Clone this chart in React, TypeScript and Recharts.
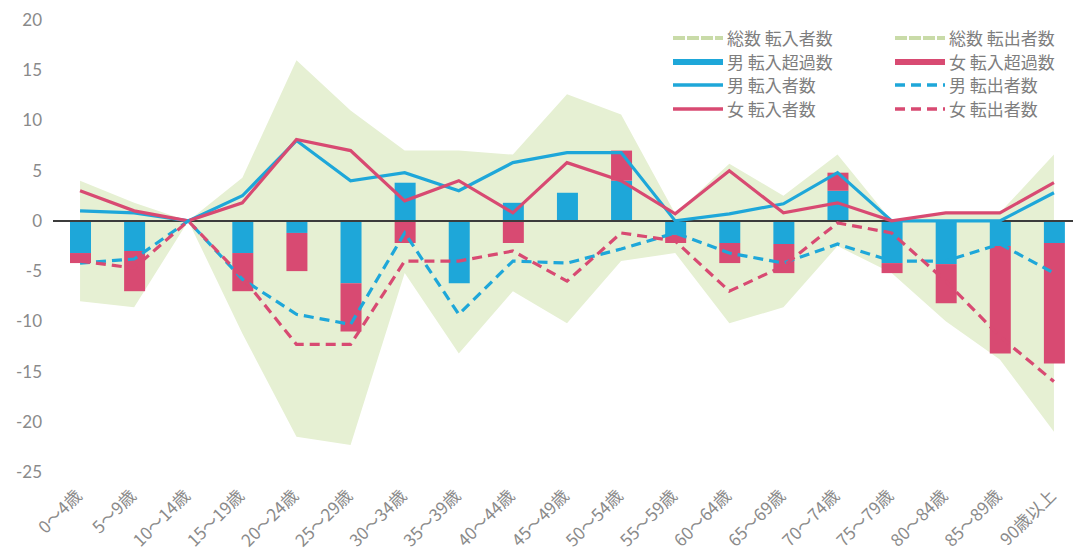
import React from 'react';
import { ComposedChart, Area, Bar, Line, XAxis, YAxis, ReferenceLine } from 'recharts';

// age groups on the x axis
const ageGroups = [
  '0〜4歳', '5〜9歳', '10〜14歳', '15〜19歳', '20〜24歳', '25〜29歳', '30〜34歳',
  '35〜39歳', '40〜44歳', '45〜49歳', '50〜54歳', '55〜59歳', '60〜64歳', '65〜69歳',
  '70〜74歳', '75〜79歳', '80〜84歳', '85〜89歳', '90歳以上',
];

// 総数 (green band)
const totalIn = [4.0, 1.8, 0, 4.3, 16.0, 11.0, 7.0, 7.0, 6.6, 12.6, 10.6, 0.7, 5.7, 2.5, 6.6, 0, 0.8, 0.8, 6.6];
const totalOut = [-8.0, -8.6, 0, -11.2, -21.5, -22.3, -5.2, -13.2, -7.0, -10.2, -4.0, -3.2, -10.2, -8.6, -2.5, -5.2, -10.0, -13.8, -21.0];

// 転入超過数 (stacked bars)
const maleNet = [-3.2, -3.0, 0, -3.2, -1.2, -6.2, 3.8, -6.2, 1.8, 2.8, 4.0, -1.4, -2.2, -2.3, 3.0, -4.2, -4.3, -2.5, -2.2];
const femaleNet = [-1.0, -4.0, 0, -3.8, -3.8, -4.8, -2.2, 0, -2.2, 0, 3.0, -0.8, -2.0, -2.9, 1.8, -1.0, -3.9, -10.7, -12.0];

// 転入者数 (solid lines)
const maleIn = [1.0, 0.8, 0, 2.5, 8.0, 4.0, 4.8, 3.0, 5.8, 6.8, 6.8, 0, 0.7, 1.7, 4.8, 0, 0, 0, 2.8];
const femaleIn = [3.0, 1.0, 0, 1.8, 8.1, 7.0, 2.0, 4.0, 0.8, 5.8, 4.0, 0.7, 5.0, 0.8, 1.8, 0, 0.8, 0.8, 3.8];

// 転出者数 (dashed lines)
const maleOut = [-4.2, -3.8, 0, -5.8, -9.3, -10.3, -1.2, -9.3, -4.0, -4.2, -2.8, -1.2, -3.2, -4.2, -2.3, -4.0, -4.0, -2.3, -5.2];
const femaleOut = [-4.0, -4.7, 0, -5.6, -12.3, -12.3, -4.0, -4.0, -3.0, -6.0, -1.2, -2.0, -7.0, -4.5, -0.2, -1.2, -6.0, -11.5, -16.0];

const yTicks = [-25, -20, -15, -10, -5, 0, 5, 10, 15, 20];

const BLUE = '#1ea7d9';
const PINK = '#d84a72';
const GREEN = '#e6f0d3';
const GREEN_KEY = '#c9dba8';
const GREY_TEXT = '#8a8a8a';

const data = ageGroups.map((age, i) => ({
  age,
  totalIn: totalIn[i],
  totalOut: totalOut[i],
  maleNet: maleNet[i],
  femaleNet: femaleNet[i],
  maleIn: maleIn[i],
  femaleIn: femaleIn[i],
  maleOut: maleOut[i],
  femaleOut: femaleOut[i],
}));

const legendItems = [
  { label: '総数 転入者数', kind: 'total', color: GREEN_KEY },
  { label: '総数 転出者数', kind: 'total', color: GREEN_KEY },
  { label: '男 転入超過数', kind: 'bar', color: BLUE },
  { label: '女 転入超過数', kind: 'bar', color: PINK },
  { label: '男 転入者数', kind: 'line', color: BLUE },
  { label: '男 転出者数', kind: 'dash', color: BLUE },
  { label: '女 転入者数', kind: 'line', color: PINK },
  { label: '女 転出者数', kind: 'dash', color: PINK },
];

const AgeTick = ({ x, y, payload }: any) => {
  const tx = x + 3;
  const ty = y + 17;
  return (
    <text
      x={tx}
      y={ty}
      transform={`rotate(-45 ${tx} ${ty})`}
      textAnchor="end"
      fill={GREY_TEXT}
      fontSize={17}
      fontFamily="'Noto Sans CJK JP', sans-serif"
    >
      {payload.value}
    </text>
  );
};

const Swatch = ({ kind, color }: { kind: string; color: string }) => {
  if (kind === 'bar') {
    return <svg width={50} height={10}><rect x={0} y={2} width={50} height={6} fill={color} /></svg>;
  }
  if (kind === 'total') {
    return (
      <svg width={50} height={10}>
        <line x1={0} y1={5} x2={50} y2={5} stroke={color} strokeWidth={4} strokeDasharray="12 2" />
      </svg>
    );
  }
  return (
    <svg width={50} height={10}>
      <line
        x1={0}
        y1={5}
        x2={50}
        y2={5}
        stroke={color}
        strokeWidth={3.5}
        strokeDasharray={kind === 'dash' ? '10 6' : undefined}
      />
    </svg>
  );
};

export default function App() {
  return (
    <div style={{ position: 'absolute', left: 0, top: 0, width: 1073, height: 556, overflow: 'hidden', background: '#fff' }}>
      <ComposedChart
        width={1090}
        height={556}
        data={data}
        stackOffset="sign"
        margin={{ top: 20, right: 9, left: 0, bottom: 0 }}
      >
        <XAxis dataKey="age" interval={0} tickLine={false} axisLine={false} height={84} tick={<AgeTick />} />
        <YAxis
          type="number"
          domain={[-25, 20]}
          ticks={yTicks}
          interval={0}
          width={53}
          tickLine={false}
          axisLine={false}
          tickMargin={5}
          tick={{ fill: GREY_TEXT, fontSize: 17, fontFamily: 'Lato, sans-serif' }}
        />
        <Area dataKey="totalIn" type="linear" baseValue={0} stroke="none" fill={GREEN} fillOpacity={1} isAnimationActive={false} />
        <Area dataKey="totalOut" type="linear" baseValue={0} stroke="none" fill={GREEN} fillOpacity={1} isAnimationActive={false} />
        <Bar dataKey="maleNet" stackId="net" fill={BLUE} barSize={21} isAnimationActive={false} />
        <Bar dataKey="femaleNet" stackId="net" fill={PINK} barSize={21} isAnimationActive={false} />
        <ReferenceLine y={0} stroke="#3c3c3c" strokeWidth={2} />
        <Line dataKey="maleIn" type="linear" stroke={BLUE} strokeWidth={3.2} dot={false} isAnimationActive={false} />
        <Line dataKey="femaleIn" type="linear" stroke={PINK} strokeWidth={3.2} dot={false} isAnimationActive={false} />
        <Line dataKey="maleOut" type="linear" stroke={BLUE} strokeWidth={3.2} strokeDasharray="10 6" dot={false} isAnimationActive={false} />
        <Line dataKey="femaleOut" type="linear" stroke={PINK} strokeWidth={3.2} strokeDasharray="10 6" dot={false} isAnimationActive={false} />
      </ComposedChart>

      <div
        style={{
          position: 'absolute',
          left: 673,
          top: 26,
          display: 'grid',
          gridTemplateColumns: '222px 180px',
          gridAutoRows: '23.7px',
          fontFamily: "'Noto Sans CJK JP', sans-serif",
          fontSize: 17,
          color: '#7e7e7e',
        }}
      >
        {legendItems.map((item) => (
          <div key={item.label} style={{ display: 'flex', alignItems: 'center', gap: 4, whiteSpace: 'nowrap', lineHeight: '23.7px' }}>
            <Swatch kind={item.kind} color={item.color} />
            <span>{item.label}</span>
          </div>
        ))}
      </div>
    </div>
  );
}
